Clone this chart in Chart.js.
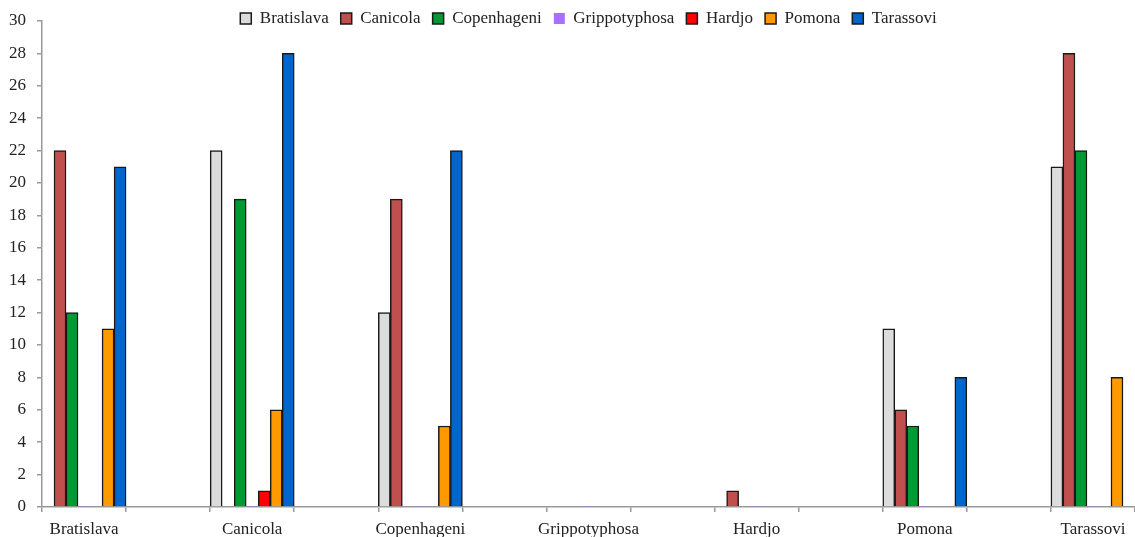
<!DOCTYPE html>
<html>
<head>
<meta charset="utf-8">
<title>Serovar co-reactions</title>
<script src="https://cdn.jsdelivr.net/npm/chart.js@4.4.1/dist/chart.umd.min.js"></script>
<style>
  html, body { margin: 0; padding: 0; background: #fff; overflow: hidden; }
  #wrap { width: 1135px; height: 537px; position: relative; }
</style>
</head>
<body>
<div id="wrap"><canvas id="chart"></canvas></div>
<script>
// serovar groups along the x axis (also the series names)
const serovars = ["Bratislava", "Canicola", "Copenhageni", "Grippotyphosa", "Hardjo", "Pomona", "Tarassovi"];

// one array per series, one value per group
const bratislava    = [0, 22, 12, 0, 0, 11, 21];
const canicola      = [22, 0, 19, 0, 1, 6, 28];
const copenhageni   = [12, 19, 0, 0, 0, 5, 22];
const grippotyphosa = [0, 0, 0, 0, 0, 0, 0];
const hardjo        = [0, 1, 0, 0, 0, 0, 0];
const pomona        = [11, 6, 5, 0, 0, 0, 8];
const tarassovi     = [21, 28, 22, 0, 0, 8, 0];

const yTicks = { min: 0, max: 30, step: 2 };

// the original leaves an empty slot between groups
const spread = (arr, filler) => arr.flatMap((v, i) => i < arr.length - 1 ? [v, filler] : [v]);
const labels = spread(serovars, "");

const family = "'Liberation Serif', 'Times New Roman', serif";
const font = { family: family, size: 17, lineHeight: 1 };

const mk = (label, data, color, bw) => ({
  label: label,
  data: spread(data, null),
  backgroundColor: color,
  borderColor: "#1a1a1a",
  borderWidth: bw,
  barPercentage: 1,
  categoryPercentage: 1
});

// legend sits in a short box that overlaps the plot top, so let it draw past its box
const legendRoom = {
  id: "legendRoom",
  afterLayout(chart) {
    chart.legend.bottom = chart.legend.top + 36;
  }
};

new Chart(document.getElementById("chart"), {
  type: "bar",
  data: {
    labels: labels,
    datasets: [
      mk("Bratislava", bratislava, "#dcdcdc", 1.5),
      mk("Canicola", canicola, "#c0504d", 1.5),
      mk("Copenhageni", copenhageni, "#009933", 1.5),
      mk("Grippotyphosa", grippotyphosa, "#a970ff", 0),
      mk("Hardjo", hardjo, "#ff0000", 1.5),
      mk("Pomona", pomona, "#ff9900", 1.5),
      mk("Tarassovi", tarassovi, "#0066cc", 1.5)
    ]
  },
  options: {
    responsive: true,
    maintainAspectRatio: false,
    animation: false,
    layout: { padding: { left: -2, right: 0, top: -2, bottom: -10 } },
    plugins: {
      tooltip: { enabled: false },
      legend: {
        position: "top",
        fullSize: false,
        maxHeight: 23,
        labels: {
          font: { family: family, size: 17, lineHeight: 0.65 },
          color: "#222",
          boxWidth: 11,
          boxHeight: 11,
          padding: 12
        }
      }
    },
    scales: {
      x: {
        grid: { display: true, drawOnChartArea: false, drawTicks: true, tickLength: 5, color: "#9a9a9a", lineWidth: 1.5, offset: true },
        border: { color: "#9a9a9a", width: 1.5 },
        ticks: { font: font, color: "#222", padding: 9, maxRotation: 0, autoSkip: false }
      },
      y: {
        min: yTicks.min,
        max: yTicks.max,
        grid: { display: true, drawOnChartArea: false, drawTicks: true, tickLength: 5, color: "#9a9a9a", lineWidth: 1.5 },
        border: { color: "#9a9a9a", width: 1.5 },
        ticks: { stepSize: yTicks.step, font: font, color: "#222", padding: 11 }
      }
    }
  },
  plugins: [legendRoom]
});
</script>
</body>
</html>
